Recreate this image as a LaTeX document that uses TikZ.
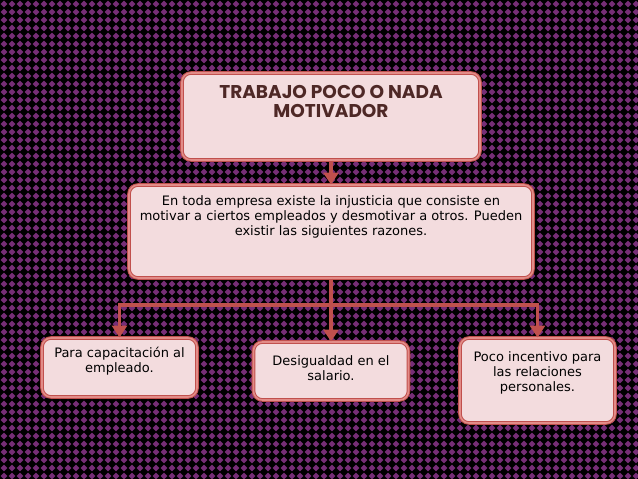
\documentclass[tikz,border=0pt]{standalone}
\usepackage{fontspec}
\setmainfont{DejaVu Sans}
\newfontfamily\titlefont{Poppins}
\usetikzlibrary{arrows.meta}
\definecolor{dotpurple}{RGB}{118,46,118}
\definecolor{boxfill}{RGB}{243,220,222}
\definecolor{boxline}{RGB}{192,80,77}
\definecolor{boxinner}{RGB}{226,140,136}
\definecolor{titlebrown}{RGB}{78,40,38}
\begin{document}
\begin{tikzpicture}[x=1pt, y=-1pt, >={Triangle[width=15pt,length=12pt]},
    box/.style={draw=boxline, double=boxinner, double distance=1.6pt, line width=1pt,
        fill=boxfill, rounded corners=9pt},
    txt/.style={align=center, font=\fontsize{13}{15}\selectfont, text=black},
    conn/.style={draw=boxline, line width=3.8pt}]
    \useasboundingbox (0,0) rectangle (638,479);

    % background dots
    \fill[black] (0,0) rectangle (638,479);
    \fill[dotpurple] \foreach \i in {0,...,79} {\foreach \j in {0,...,59} {
        (\i*8+4,\j*8+4) +(0,-3.4) -- +(3.4,0) -- +(0,3.4) -- +(-3.4,0) -- cycle}};

    % boxes
    \node[box, minimum width=298pt, minimum height=87pt] (top) at (331,116.5) {};
    \node[box, minimum width=404pt, minimum height=93pt] (mid) at (331,231.5) {};
    \node[box, minimum width=155pt, minimum height=59pt] (left) at (119.5,367.5) {};
    \node[box, minimum width=155pt, minimum height=58pt] (center) at (331,371) {};
    \node[box, minimum width=155pt, minimum height=85pt] (right) at (537.5,380.5) {};

    % texts
    \node[align=center, text=titlebrown, font=\titlefont\bfseries\fontsize{18.5}{19}\selectfont]
        (toptext) at (331,101) {TRABAJO POCO O NADA\\MOTIVADOR};
    \node[txt] (midtext) at (331,217) {En toda empresa existe la injusticia que consiste en\\
        motivar a ciertos empleados y desmotivar a otros. Pueden\\
        existir las siguientes razones.};
    \node[txt] (lefttext) at (119.5,361.5) {Para capacitación al\\empleado.};
    \node[txt] (centertext) at (331,368.5) {Desigualdad en el\\salario.};
    \node[txt] (righttext) at (537.5,372.5) {Poco incentivo para\\las relaciones\\personales.};

    % connectors
    \coordinate (bus) at (331,305);
    \draw[conn, ->] (top.south) -- (mid.north);
    \draw[conn] (mid.south) -- (bus);
    \draw[conn, ->] (bus) -| (left.north);
    \draw[conn, ->] (bus) -- (center.north);
    \draw[conn, ->] (bus) -| (right.north);
\end{tikzpicture}
\end{document}
